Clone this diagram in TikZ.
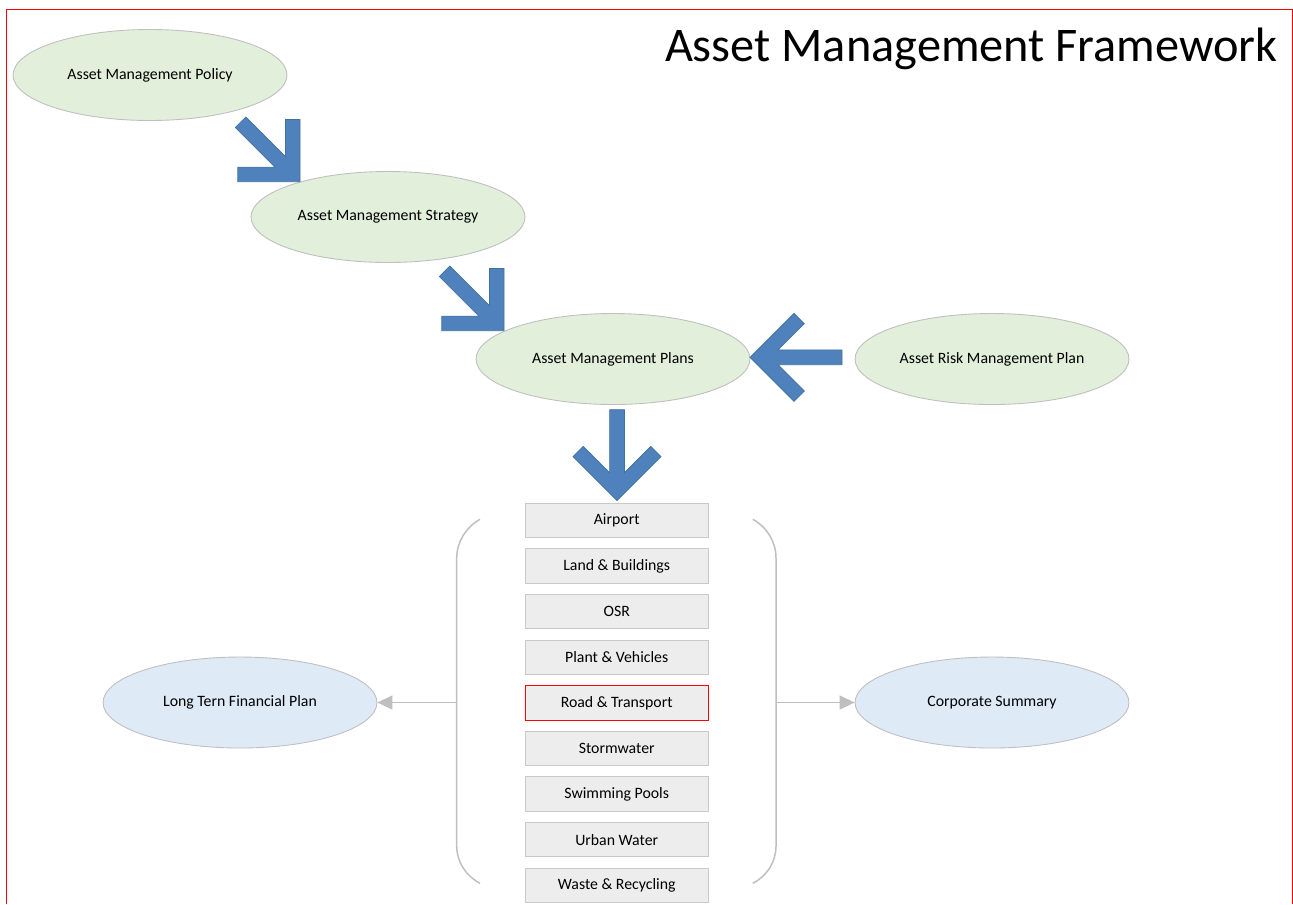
\documentclass[tikz,border=0pt]{standalone}
\usepackage{fontspec}
\setmainfont{Carlito}
\usetikzlibrary{shapes.geometric,arrows.meta}

\definecolor{planfill}{HTML}{E2EFDA}
\definecolor{outfill}{HTML}{DEEAF6}
\definecolor{edgegray}{HTML}{BFBFBF}
\definecolor{boxfill}{HTML}{EDEDED}
\definecolor{boxedge}{HTML}{C9C9C9}
\definecolor{arrowblue}{HTML}{4F81BD}
\definecolor{arrowedge}{HTML}{41719C}

\tikzset{
    plan/.style={ellipse, draw=edgegray, line width=0.5pt, fill=planfill,
        minimum width=5.48cm, minimum height=1.82cm, inner sep=0pt,
        font=\fontsize{9}{11}\selectfont},
    output/.style={plan, fill=outfill},
    assetbox/.style={rectangle, line width=0.6pt, fill=boxfill,
        minimum width=3.66cm, minimum height=0.69cm, inner sep=0pt,
        font=\fontsize{9}{11}\selectfont},
    bracket/.style={draw=edgegray, line width=0.85pt},
    feed/.style={bracket, -{Triangle[length=0.3cm, width=0.28cm]}},
    % chevron block arrow, tip at the origin, pointing along +x
    pics/bigarrow/.style={code={
        \filldraw[fill=arrowblue, draw=arrowedge, line width=0.4pt]
            (0,0) -- (-44,-44) -- (-54.3,-33.7) -- (-28,-7.4) -- (-#1,-7.4)
            -- (-#1,7.4) -- (-28,7.4) -- (-54.3,33.7) -- (-44,44) -- cycle;
    }},
}

\begin{document}
\begin{tikzpicture}[x=0.02cm, y=-0.02cm]
        \useasboundingbox (0,0) rectangle (1293,904);
        \draw[red, line width=0.5pt] (6.5,904) -- (6.5,9) -- (1292.3,9) -- (1292.3,904);

        \node[anchor=base east, inner sep=0pt, font=\fontsize{27.5}{33}\selectfont] (title) at (1278,61) {Asset Management Framework};

        \node[plan] (policy) at (150,75) {Asset Management Policy};
        \node[plan] (strategy) at (388,217) {Asset Management Strategy};
        \node[plan] (plans) at (613,359) {Asset Management Plans};
        \node[plan] (risk) at (992,359) {Asset Risk Management Plan};
        \node[output] (ltfp) at (240,702.5) {Long Tern Financial Plan};
        \node[output] (corporate) at (992,702.5) {Corporate Summary};

        \pic[rotate=-45] at (300,181.7) {bigarrow=84};
        \pic[rotate=-45] at (504,330.7) {bigarrow=84};
        \pic[rotate=180] at (750,357.3) {bigarrow=92};
        \pic[rotate=-90] at (617,500.7) {bigarrow=91};

        % asset classes
        \foreach \name/\label/\edge [count=\i from 0] in {
                airport/Airport/boxedge, land/Land \& Buildings/boxedge,
                osr/OSR/boxedge, plant/Plant \& Vehicles/boxedge,
                road/Road \& Transport/red, storm/Stormwater/boxedge,
                pools/Swimming Pools/boxedge, urban/Urban Water/boxedge,
                waste/Waste \& Recycling/boxedge}
            \node[assetbox, draw=\edge] (\name) at (616.7,{520.5+45.6*\i}) {\label};

        \draw[bracket] (480,519.3) .. controls (466,527) and (456.7,542) .. (456.7,558)
            -- (456.7,846) .. controls (456.7,862) and (466,876) .. (480,883.3);
        \draw[bracket] (752.7,519.3) .. controls (767,527) and (776,542) .. (776,558)
            -- (776,846) .. controls (776,862) and (767,876) .. (752.7,883.3);

        \coordinate (leftjoin) at (456.7,702.5);
        \coordinate (rightjoin) at (776,702.5);
        \draw[feed] (leftjoin) -- (ltfp.east);
        \draw[feed] (rightjoin) -- (corporate.west);
    \end{tikzpicture}
\end{document}
